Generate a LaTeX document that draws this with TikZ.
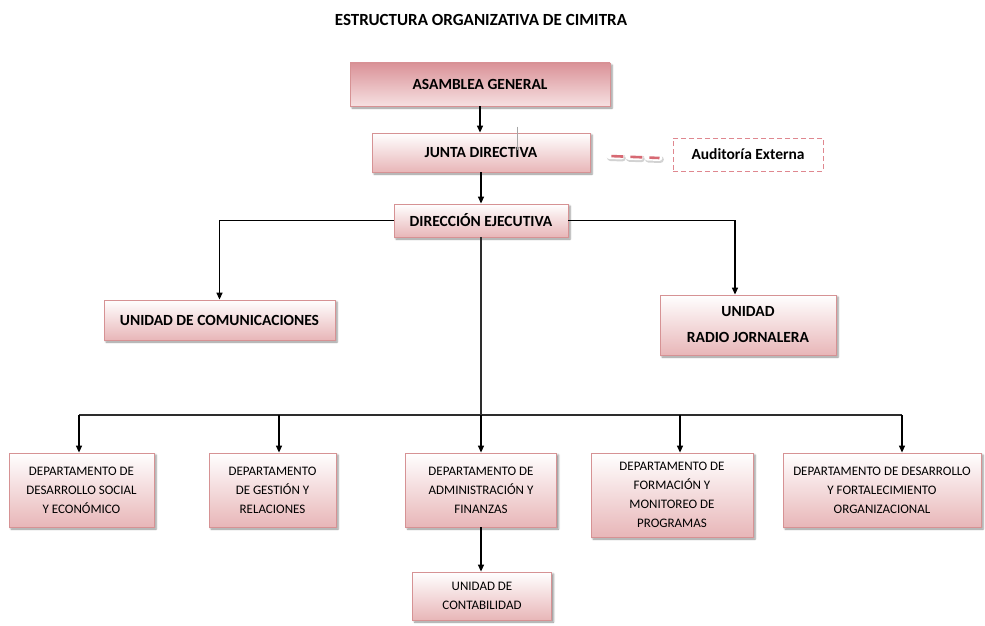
\documentclass[tikz,border=0pt]{standalone}
\usepackage{fontspec}
\setmainfont{Carlito}
\usetikzlibrary{arrows.meta,
           positioning,
           calc,
           shadows.blur}
\definecolor{rosa}{RGB}{232,182,184}
\definecolor{borde}{RGB}{214,146,148}
\definecolor{rosafuerte}{RGB}{218,146,152}
\definecolor{rosaclaro}{RGB}{246,224,225}
\definecolor{guion}{RGB}{215,105,115}
\definecolor{linea}{RGB}{45,45,45}
\tikzset{
  caja/.style={draw=borde, line width=0.8pt, top color=white, bottom color=rosa,
               align=center, inner sep=2pt,
               blur shadow={shadow xshift=2pt, shadow yshift=-2pt,
                            shadow blur steps=4, shadow opacity=45}},
  cajatop/.style={caja, top color=rosafuerte, bottom color=rosaclaro},
  etiq/.style={font=\fontsize{15.5}{26}\selectfont\bfseries},
  depto/.style={font=\fontsize{13}{19}\selectfont},
  flecha/.style={-{Triangle[length=7pt,width=6pt]}, line width=1.3pt, draw=black},
  rama/.style={line width=1.3pt, draw=linea},
  guiones/.style={line cap=round, dash pattern=on 12pt off 7pt},
}

\begin{document}
\begin{tikzpicture}[x=1pt,y=-1pt]
\useasboundingbox (0,0) rectangle (985,626);
% titulo
\node[font=\fontsize{17}{20}\selectfont\bfseries] (titulo) at (481,20) {ESTRUCTURA ORGANIZATIVA DE CIMITRA};
% niveles superiores
\node[cajatop,etiq,minimum width=260pt,minimum height=43pt] (asamblea) at (480,84.5) {ASAMBLEA GENERAL};
\node[caja,etiq,minimum width=218pt,minimum height=39pt] (junta) at (481,152.5) {JUNTA DIRECTIVA};
\node[draw=guion!80,line width=1pt,dash pattern=on 5pt off 3pt,etiq,
      minimum width=150pt,minimum height=33pt] (auditoria) at (748,154.5) {Auditoría Externa};
\node[caja,etiq,minimum width=174pt,minimum height=33pt] (direccion) at (481,220.5) {DIRECCIÓN EJECUTIVA};
% unidades
\node[caja,etiq,minimum width=231pt,minimum height=40pt] (comunic) at (219.5,320) {UNIDAD DE COMUNICACIONES};
\node[caja,etiq,minimum width=176pt,minimum height=60pt] (radio) at (748,325) {UNIDAD\\RADIO JORNALERA};
% departamentos
\node[caja,depto,minimum width=145pt,minimum height=74pt] (dep1) at (81.5,490) {DEPARTAMENTO DE\\DESARROLLO SOCIAL\\Y ECONÓMICO};
\node[caja,depto,minimum width=127pt,minimum height=74pt] (dep2) at (272.5,490) {DEPARTAMENTO\\DE GESTIÓN Y\\RELACIONES};
\node[caja,depto,minimum width=151pt,minimum height=74pt] (dep3) at (481,490) {DEPARTAMENTO DE\\ADMINISTRACIÓN Y\\FINANZAS};
\node[caja,depto,minimum width=162pt,minimum height=84pt] (dep4) at (672,495) {DEPARTAMENTO DE\\FORMACIÓN Y\\MONITOREO DE\\PROGRAMAS};
\node[caja,depto,minimum width=198pt,minimum height=74pt] (dep5) at (882,490) {DEPARTAMENTO DE DESARROLLO\\Y FORTALECIMIENTO\\ORGANIZACIONAL};
\node[caja,depto,minimum width=139pt,minimum height=48pt] (conta) at (482,596) {UNIDAD DE\\CONTABILIDAD};
% conexiones
\draw[flecha] (asamblea.south) -- (asamblea.south |- junta.north);
\draw[flecha] (junta.south) -- (junta.south |- direccion.north);
\draw[gray!70,line width=0.6pt] ([xshift=36pt,yshift=6pt]junta.north) -- ++(0,23);
% enlace punteado con la auditoria
\coordinate (a1) at ([xshift=19pt,yshift=-3.5pt]junta.east);
\coordinate (a2) at ([xshift=-13pt,yshift=-3.5pt]auditoria.west);
\draw[guiones,gray!35,line width=7pt] ([shift={(1pt,-1.5pt)}]a1) -- ([shift={(1pt,-1.5pt)}]a2);
\draw[guiones,white,line width=6pt] (a1) -- (a2);
\draw[guiones,guion,line width=2.6pt,line cap=butt,dash pattern=on 12pt off 7pt,dash phase=-2pt] (a1) -- (a2);
\draw[flecha] (direccion.west) -| (comunic.north);
\draw[flecha] (direccion.east) -| ([xshift=-13pt]radio.north);
\coordinate (t1) at (79,415);
\coordinate (t2) at (279,415);
\coordinate (t3) at (481,415);
\coordinate (t4) at (680,415);
\coordinate (t5) at (902,415);
\draw[rama] (direccion.south) -- (t3);
\draw[rama] (t1) -- (t5);
\foreach \t/\d in {t1/dep1,t2/dep2,t3/dep3,t4/dep4,t5/dep5}
  \draw[flecha] (\t) -- (\t |- \d.north);
\draw[flecha] (dep3.south) -- (dep3.south |- conta.north);
\end{tikzpicture}
\end{document}
